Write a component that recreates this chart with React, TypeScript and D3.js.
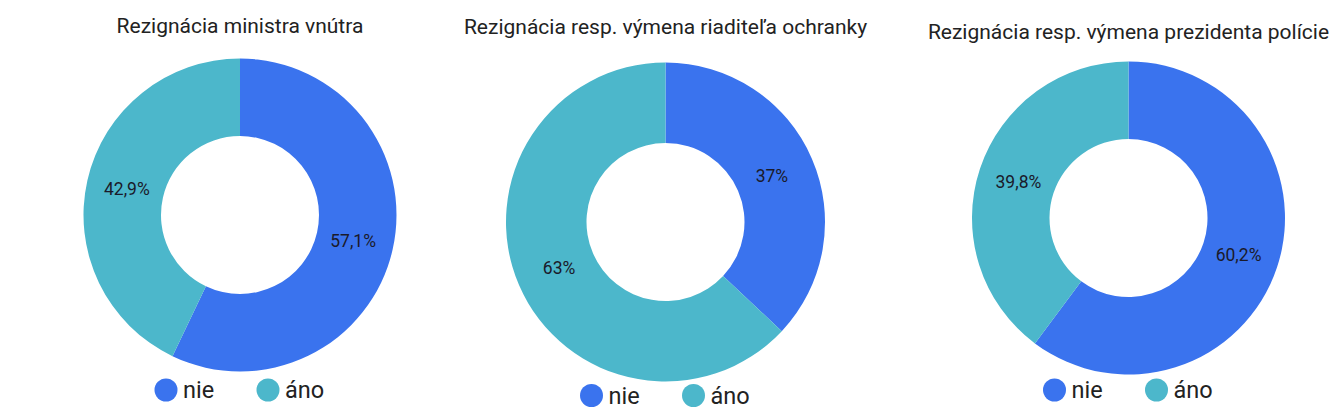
import React from 'react';
import * as d3 from 'd3';

// categories + values per chart
const categories = ['nie', 'áno'];
const titles = [
	'Rezignácia ministra vnútra',
	'Rezignácia resp. výmena riaditeľa ochranky',
	'Rezignácia resp. výmena prezidenta polície'
];
const values = [ [ 57.1, 42.9 ], [ 37, 63 ], [ 60.2, 39.8 ] ];
const labels = [ [ '57,1%', '42,9%' ], [ '37%', '63%' ], [ '60,2%', '39,8%' ] ];
const colors = [ '#3a73ee', '#4cb7cb' ];

// layout of each donut (cx, cy, outer r, title y, legend y)
const layout = [
	{ cx: 240, cy: 215, r: 156.5, ty: 33, ly: 390 },
	{ cx: 665.5, cy: 222, r: 159.5, ty: 34, ly: 395.5 },
	{ cx: 1128.5, cy: 218, r: 156.5, ty: 39, ly: 390 }
];
const legendOffsets = [ -74, -74, -74 ];

const pie = d3.pie<number>().sort(null).value((d) => d);

const Donut = ({ i }: { i: number }) => {
	const { cx, cy, r, ty, ly } = layout[i];
	const inner = 79;
	const arc = d3.arc<d3.PieArcDatum<number>>().innerRadius(inner).outerRadius(r);
	const labelArc = d3.arc<d3.PieArcDatum<number>>().innerRadius(116).outerRadius(116);
	const arcs = pie(values[i]);
	return (
		<g>
			<text x={cx} y={ty} textAnchor="middle" fontSize={21} fill="#222">
				{titles[i]}
			</text>
			<g transform={`translate(${cx},${cy})`}>
				{arcs.map((a, j) => <path key={j} d={arc(a) || ''} fill={colors[j]} />)}
				{arcs.map((a, j) => {
					const [ x, y ] = labelArc.centroid(a);
					return (
						<text key={j} x={x} y={y} dy="0.35em" textAnchor="middle" fontSize={17.5} fill="#1a1a2a">
							{labels[i][j]}
						</text>
					);
				})}
			</g>
			{categories.map((c, j) => {
				const x0 = cx + legendOffsets[i] + j * 102;
				return (
					<g key={c}>
						<circle cx={x0} cy={ly} r={11.5} fill={colors[j]} />
						<text x={x0 + 17} y={ly} dy="0.35em" fontSize={23.5} fill="#222">
							{c}
						</text>
					</g>
				);
			})}
		</g>
	);
};

const App = () => {
	return (
		<svg
			width={1343}
			height={410}
			style={{ position: 'absolute', left: 0, top: 0, background: '#fff' }}
			fontFamily="Roboto, sans-serif"
		>
			{titles.map((t, i) => <Donut key={t} i={i} />)}
		</svg>
	);
};

export default App;
